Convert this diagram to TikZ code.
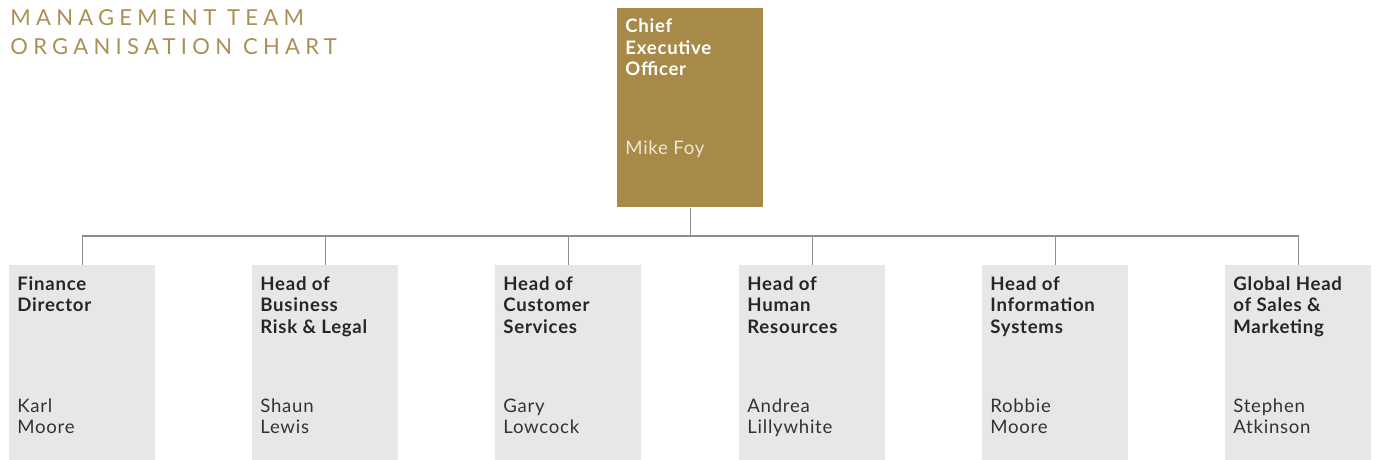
\documentclass[tikz,border=0pt]{standalone}
\usepackage{fontspec}
\setmainfont[LetterSpace=4]{Lato}
\newfontfamily\titlefont[LetterSpace=24]{Lato}
\usepackage{tikz}
\usepackage{xcolor}
\definecolor{gold}{HTML}{A78A48}
\definecolor{titlegold}{HTML}{AB9055}
\definecolor{boxgrey}{HTML}{E6E7E9}
\definecolor{linegrey}{HTML}{8E8E8E}
\definecolor{ceoname}{HTML}{EFE7D5}
% lines stacked from the first baseline down
\newcommand{\rolelines}[1]{\begin{tabular}[t]{@{}l@{}}#1\end{tabular}}
\tikzstyle{ceobox} = [fill=gold, rectangle, anchor=north west, inner sep=0pt, minimum width=73pt, minimum height=99.5pt]
\tikzstyle{kidbox} = [fill=boxgrey, rectangle, anchor=north west, inner sep=0pt, minimum width=73pt, minimum height=97.5pt]
\tikzstyle{role} = [anchor=base west, inner sep=0pt, font=\bfseries\fontsize{9.3}{10.75}\selectfont, text=black!85]
\tikzstyle{person} = [anchor=base west, inner sep=0pt, font=\fontsize{9.3}{10.75}\selectfont, text=black!80]
\tikzstyle{link} = [draw=linegrey, line width=0.7pt]

\begin{document}
\begin{tikzpicture}[x=0.5pt, y=-0.5pt]
\useasboundingbox (0,0) rectangle (1376,460);

% heading
\node[anchor=base west, inner sep=0pt, text=titlegold,
      font=\titlefont\fontsize{11}{14.5}\selectfont] (title) at (10,26)
      {\rolelines{MANAGEMENT TEAM\\ORGANISATION CHART}};

% chief executive
\node[ceobox] (ceo) at (617,8) {};
\node[role, text=white] (ceorole) at ([xshift=4pt,yshift=-12.5pt]ceo.north west) {\rolelines{Chief\\Executive\\Officer}};
\node[person, text=ceoname] (ceoname) at ([xshift=4pt,yshift=-73.5pt]ceo.north west) {Mike Foy};

% direct reports
\node[kidbox] (fd) at (9,265) {};
\node[role] at ([xshift=4pt,yshift=-12.5pt]fd.north west) {\rolelines{Finance\\Director}};
\node[person] at ([xshift=4pt,yshift=-73.5pt]fd.north west) {\rolelines{Karl\\Moore}};

\node[kidbox] (risk) at (252,265) {};
\node[role] at ([xshift=4pt,yshift=-12.5pt]risk.north west) {\rolelines{Head of\\Business\\Risk \& Legal}};
\node[person] at ([xshift=4pt,yshift=-73.5pt]risk.north west) {\rolelines{Shaun\\Lewis}};

\node[kidbox] (cs) at (495,265) {};
\node[role] at ([xshift=4pt,yshift=-12.5pt]cs.north west) {\rolelines{Head of\\Customer\\Services}};
\node[person] at ([xshift=4pt,yshift=-73.5pt]cs.north west) {\rolelines{Gary\\Lowcock}};

\node[kidbox] (hr) at (739,265) {};
\node[role] at ([xshift=4pt,yshift=-12.5pt]hr.north west) {\rolelines{Head of\\Human\\Resources}};
\node[person] at ([xshift=4pt,yshift=-73.5pt]hr.north west) {\rolelines{Andrea\\Lillywhite}};

\node[kidbox] (is) at (982,265) {};
\node[role] at ([xshift=4pt,yshift=-12.5pt]is.north west) {\rolelines{Head of\\Information\\Systems}};
\node[person] at ([xshift=4pt,yshift=-73.5pt]is.north west) {\rolelines{Robbie\\Moore}};

\node[kidbox] (sales) at (1225,265) {};
\node[role] at ([xshift=4pt,yshift=-12.5pt]sales.north west) {\rolelines{Global Head\\of Sales \&\\Marketing}};
\node[person] at ([xshift=4pt,yshift=-73.5pt]sales.north west) {\rolelines{Stephen\\Atkinson}};

% reporting lines
\draw[link] (ceo.south) -- ++(0,28) -| (fd.north);
\draw[link] (ceo.south) -- ++(0,28) -| (risk.north);
\draw[link] (ceo.south) -- ++(0,28) -| (cs.north);
\draw[link] (ceo.south) -- ++(0,28) -| (hr.north);
\draw[link] (ceo.south) -- ++(0,28) -| (is.north);
\draw[link] (ceo.south) -- ++(0,28) -| (sales.north);
\end{tikzpicture}
\end{document}
